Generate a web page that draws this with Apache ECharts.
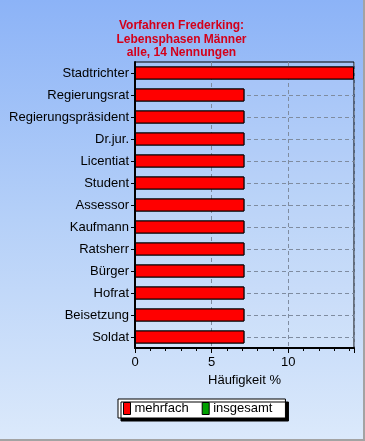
<!DOCTYPE html>
<html><head><meta charset="utf-8">
<script src="https://cdn.jsdelivr.net/npm/echarts@6/dist/echarts.min.js"></script>
<style>
html,body{margin:0;padding:0;}
#c{width:363px;height:439px;border-right:2px solid #a3a3a3;border-bottom:2px solid #a3a3a3;
background:linear-gradient(to bottom,#8cb3f7 0%,#b5d0f8 50%,#dbe9fb 100%);}
</style></head>
<body><div id="c"></div>
<script>
const titleText = 'Vorfahren Frederking:\nLebensphasen Männer\nalle, 14 Nennungen';
const categories = ['Stadtrichter','Regierungsrat','Regierungspräsident','Dr.jur.','Licentiat','Student','Assessor','Kaufmann','Ratsherr','Bürger','Hofrat','Beisetzung','Soldat'];
const mehrfach = [14.29,7.14,7.14,7.14,7.14,7.14,7.14,7.14,7.14,7.14,7.14,7.14,7.14];
const insgesamt = [14.29,7.14,7.14,7.14,7.14,7.14,7.14,7.14,7.14,7.14,7.14,7.14,7.14];
const xTicks = [0,5,10];
const xName = 'Häufigkeit %';
const seriesNames = ['mehrfach','insgesamt'];

const chart = echarts.init(document.getElementById('c'), null, {renderer:'canvas'});
const font = 'Liberation Sans, Arial, sans-serif';
chart.setOption({
  animation:false,
  textStyle:{fontFamily:font},
  title:{text:titleText,left:'center',top:14,textStyle:{fontFamily:font,fontSize:12,fontWeight:'bold',color:'#d4001a',lineHeight:13.5}},
  grid:{left:135,right:9,top:62,bottom:91,show:true,borderColor:'#000',borderWidth:1,backgroundColor:'rgba(255,255,255,0.12)'},
  legend:{data:seriesNames,left:118,top:399,orient:'horizontal',icon:'rect',itemWidth:7,itemHeight:12,itemGap:13,
    padding:[3,13,3,5],backgroundColor:'#fff',borderColor:'#000',borderWidth:1,borderRadius:0,
    shadowColor:'#000',shadowBlur:0,shadowOffsetX:3,shadowOffsetY:3,
    textStyle:{fontFamily:font,fontSize:13,color:'#000',padding:[0,0,0,-1]},
    itemStyle:{borderColor:'#000',borderWidth:1}},
  xAxis:{type:'value',min:0,max:'dataMax',interval:5,
    name:xName,nameLocation:'middle',nameGap:26,nameTextStyle:{fontFamily:font,fontSize:13,color:'#000'},
    axisLine:{show:true,lineStyle:{color:'#000',width:2}},
    axisTick:{show:true,length:5,lineStyle:{color:'#000'}},
    minorTick:{show:true,splitNumber:5,length:3,lineStyle:{color:'#000'}},
    axisLabel:{fontFamily:font,fontSize:13,color:'#000',margin:8,
      formatter:function(v){return xTicks.indexOf(v)>=0?String(v):'';}},
    splitLine:{show:true,lineStyle:{color:'#7f8ca0',type:[4,3],width:1}}},
  yAxis:[{type:'category',data:categories,inverse:true,
    axisLine:{show:true,lineStyle:{color:'#000',width:2}},
    axisTick:{show:true,alignWithLabel:true,length:4,lineStyle:{color:'#000'}},
    axisLabel:{fontFamily:font,fontSize:13,color:'#000',margin:6},
    splitLine:{show:false}},
   {type:'value',min:0,max:categories.length,interval:1,position:'right',
    axisLine:{show:false},axisTick:{show:false},axisLabel:{show:false},
    splitLine:{show:false},
    minorTick:{show:false,splitNumber:2},
    minorSplitLine:{show:true,lineStyle:{color:'#7f8ca0',type:[4,3],width:1}}}],
  series:[
    {name:seriesNames[1],type:'bar',data:insgesamt,barWidth:13,barGap:'-100%',
      itemStyle:{color:'#00a000',borderColor:'#000',borderWidth:1}},
    {name:seriesNames[0],type:'bar',data:mehrfach,barWidth:13,barGap:'-100%',
      itemStyle:{color:'#ff0000',borderColor:'#000',borderWidth:1}}
  ]
});
</script></body></html>
